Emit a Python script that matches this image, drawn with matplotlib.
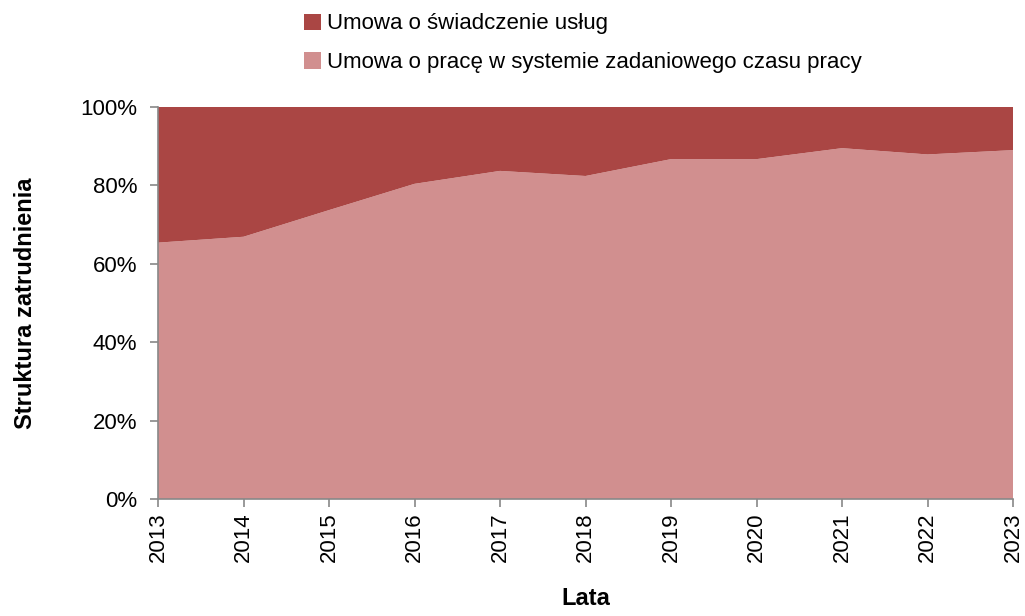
import matplotlib.pyplot as plt
from matplotlib.ticker import PercentFormatter

# data (share of employment, %)
years = [2013, 2014, 2015, 2016, 2017, 2018, 2019, 2020, 2021, 2022, 2023]
zadaniowy = [65.4, 66.9, 73.7, 80.4, 83.7, 82.4, 86.7, 86.7, 89.5, 87.9, 89.0]
uslugi = [100 - v for v in zadaniowy]

labels = ["Umowa o świadczenie usług",
          "Umowa o pracę w systemie zadaniowego czasu pracy"]
col_dark = "#aa4644"
col_light = "#d18f8f"

plt.rcParams['font.family'] = ['Liberation Sans', 'DejaVu Sans']

fig = plt.figure(figsize=(10.25, 6.16), dpi=100)
ax = fig.add_axes([158/1025, 1 - 499/616, (1013 - 158)/1025, (499 - 107)/616])

ax.stackplot(years, zadaniowy, uslugi, colors=[col_light, col_dark],
             labels=[labels[1], labels[0]], linewidth=0)

ax.set_xlim(2013, 2023)
ax.set_ylim(0, 100)
ax.set_xticks(years)
ax.set_xticklabels([str(y) for y in years], rotation=90)
ax.set_yticks(range(0, 101, 20))
ax.yaxis.set_major_formatter(PercentFormatter(decimals=0))
ax.tick_params(labelsize=16, colors="#888888", labelcolor="black", length=6, width=1.2)
ax.tick_params(axis="y", pad=9)

for s in ["top", "right"]:
    ax.spines[s].set_visible(False)
for s in ["left", "bottom"]:
    ax.spines[s].set_color("#888888")
    ax.spines[s].set_linewidth(1.2)

ax.set_ylabel("Struktura zatrudnienia", fontsize=17, fontweight="bold", labelpad=31)
ax.set_xlabel("Lata", fontsize=17, fontweight="bold", labelpad=18)

h, l = ax.get_legend_handles_labels()
fig.legend(h[::-1], l[::-1], loc="upper left", bbox_to_anchor=(300/1025, 1 - 9/616),
           frameon=False, fontsize=16, handlelength=0.75, handleheight=0.75,
           handletextpad=0.25, labelspacing=0.8, borderaxespad=0, borderpad=0.2)

fig.savefig("out.png", dpi=100)
